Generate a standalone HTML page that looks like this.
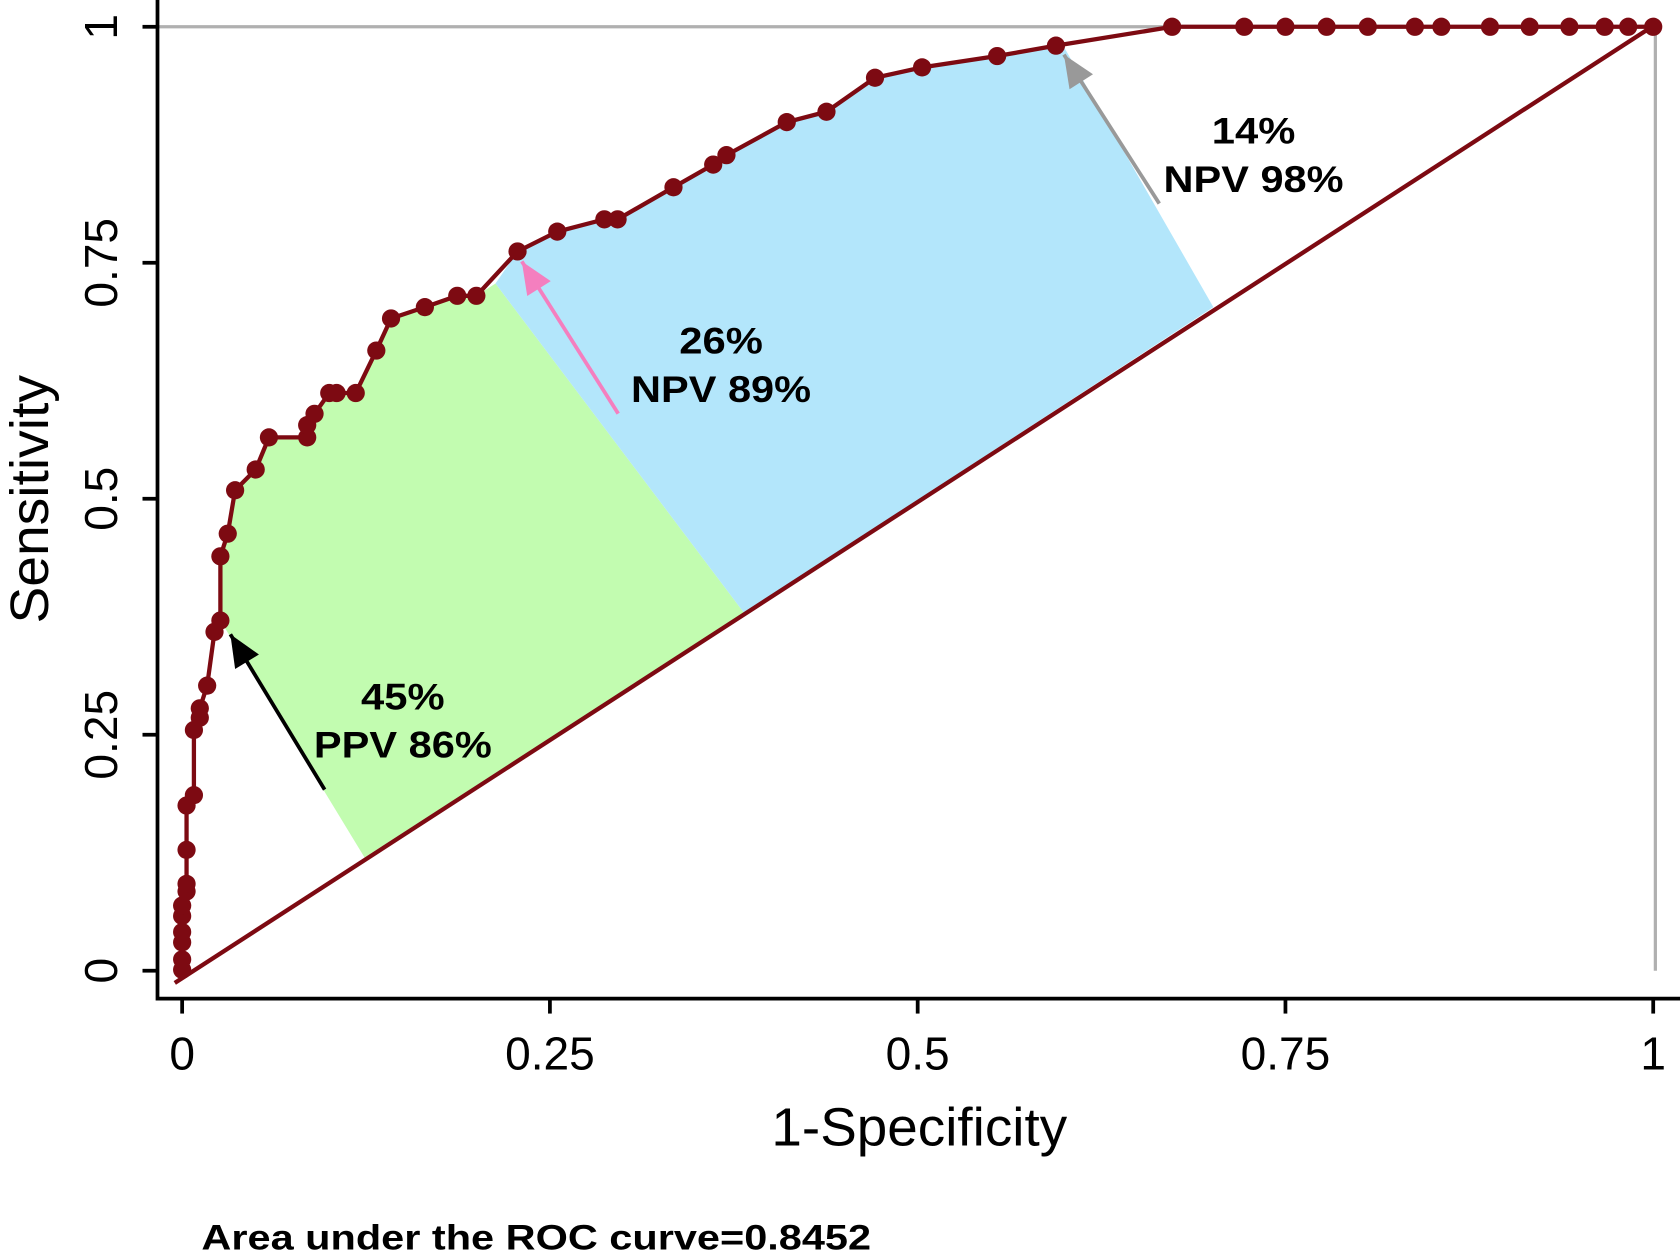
<!DOCTYPE html>
<html><head><meta charset="utf-8"><style>
html,body{margin:0;padding:0;background:#fff;}
svg{display:block;font-family:"Liberation Sans",Arial,sans-serif;}
</style></head><body>
<svg id="chart" width="1680" height="1260" viewBox="0 0 1568 1176" xmlns="http://www.w3.org/2000/svg">
<g id="regions"></g>
<g id="lines"></g>
<g id="dots"></g>
<g id="annot"></g>
<g id="axes"></g>
</svg>
<script>
const fpr = [0,0,0,0,0,0,0.003,0.003,0.003,0.003,0.008,0.008,0.012,0.012,0.017,0.022,0.026,0.026,0.031,0.036,0.050,0.059,0.085,0.085,0.090,0.100,0.105,0.118,0.132,0.142,0.165,0.187,0.200,0.228,0.255,0.287,0.296,0.334,0.361,0.370,0.411,0.438,0.471,0.503,0.554,0.594,0.673,0.722,0.750,0.778,0.806,0.838,0.856,0.889,0.916,0.943,0.967,0.983,1];
const tpr = [0.001,0.012,0.030,0.041,0.058,0.069,0.084,0.092,0.128,0.175,0.186,0.255,0.268,0.278,0.302,0.359,0.371,0.439,0.463,0.509,0.531,0.565,0.565,0.578,0.590,0.612,0.612,0.612,0.657,0.691,0.703,0.715,0.715,0.762,0.783,0.796,0.796,0.830,0.854,0.864,0.899,0.910,0.946,0.957,0.969,0.980,1,1,1,1,1,1,1,1,1,1,1,1,1];
const xTicks = [0,0.25,0.5,0.75,1];
const xTickLabels = ["0","0.25","0.5","0.75","1"];
const yTicks = [0,0.25,0.5,0.75,1];
const yTickLabels = ["0","0.25","0.5","0.75","1"];
const aucText = "Area under the ROC curve=0.8452";

const X = v => 170 + v*1373;
const Y = v => 906 - v*881;
const NS = "http://www.w3.org/2000/svg";
function mk(tag, attrs, parent){const e=document.createElementNS(NS,tag);for(const k in attrs)e.setAttribute(k,attrs[k]);document.getElementById(parent).appendChild(e);return e;}
const RED = "#7d0a12";

function curveBetween(a,b){const p=[];for(let i=0;i<fpr.length;i++){if(fpr[i]>=a&&fpr[i]<=b)p.push(X(fpr[i])+","+Y(tpr[i]));}return p;}
let gp = [X(0.026)+","+Y(0.371)].concat(curveBetween(0.026,0.2)).concat([X(0.213)+","+Y(0.728), X(0.382)+","+Y(0.379), X(0.124)+","+Y(0.12)]);
let g = mk("polygon",{points:gp.join(" "),fill:"#c2fcb0"},"regions");


let bp = [X(0.213)+","+Y(0.728)].concat(curveBetween(0.22,0.594)).concat([X(0.6)+","+Y(0.977), X(0.701)+","+Y(0.703), X(0.382)+","+Y(0.379)]);
let b = mk("polygon",{points:bp.join(" "),fill:"#b3e6fb"},"regions");



let gl = mk("polyline",{points:`147,${Y(1)} ${X(1)+2},${Y(1)} ${X(1)+2},906`,fill:"none",stroke:"#b0b0b0","stroke-width":3},"lines");



let d = mk("line",{x1:X(-0.005),y1:Y(-0.013),x2:X(1.002),y2:Y(1.003),stroke:RED,"stroke-width":4},"lines");



let cpts = fpr.map((v,i)=>X(v)+","+Y(tpr[i])).join(" ");
let c = mk("polyline",{points:cpts,fill:"none",stroke:RED,"stroke-width":4},"lines");


for(let i=0;i<fpr.length;i++){
  const dot = mk("circle",{cx:X(fpr[i]),cy:Y(tpr[i]),r:8.5,fill:RED},"dots");
  
  
}

function arrow(x1,y1,x2,y2,col,name){
  const l = mk("line",{x1,y1,x2,y2,stroke:col,"stroke-width":3.5},"annot");
  
  
  const ang=Math.atan2(y2-y1,x2-x1), L=30, W=13;
  const bx=x2-L*Math.cos(ang), by=y2-L*Math.sin(ang);
  const px=-Math.sin(ang)*W, py=Math.cos(ang)*W;
  const h = mk("polygon",{points:`${x2},${y2} ${bx+px},${by+py} ${bx-px},${by-py}`,fill:col},"annot");
  
  
}
arrow(303,737,215,592,"#000","ppv-arrow");
arrow(577,386,487,244,"#f47fbf","npv89-arrow");
arrow(1082,190,993,51,"#999999","npv98-arrow");

function txt(x,y,s,attrs,name,parent,len){const t=mk("text",Object.assign({x,y},attrs),parent||"annot");t.textContent=s;if(len){t.setAttribute('textLength',len);t.setAttribute('lengthAdjust','spacingAndGlyphs');}return t;}
const lb={"font-size":35,"font-weight":"bold","text-anchor":"middle",fill:"#000"};
txt(376,662,"45%",lb,"ppv-pct-label","annot",78);
txt(376,707,"PPV 86%",lb,"ppv-value-label","annot",166);
txt(673,330,"26%",lb,"npv89-pct-label","annot",78);
txt(673,375,"NPV 89%",lb,"npv89-value-label","annot",168);
txt(1170,134,"14%",lb,"npv98-pct-label","annot",78);
txt(1170,179,"NPV 98%",lb,"npv98-value-label","annot",168);

let ax = mk("polyline",{points:"147,0 147,932 1568,932",fill:"none",stroke:"#000","stroke-width":3.5},"axes");


xTicks.forEach((v,i)=>{
  const t=mk("line",{x1:X(v),y1:932,x2:X(v),y2:946,stroke:"#000","stroke-width":3.5},"axes");
  
  
  txt(X(v),998,xTickLabels[i],{"font-size":43,"text-anchor":"middle",fill:"#000"},"x-tick-label","axes");
});
yTicks.forEach((v,i)=>{
  const t=mk("line",{x1:133,y1:Y(v),x2:147,y2:Y(v),stroke:"#000","stroke-width":3.5},"axes");
  
  
  txt(109,Y(v),yTickLabels[i],{"font-size":43,"text-anchor":"middle",fill:"#000",transform:`rotate(-90 109 ${Y(v)})`},"y-tick-label","axes");
});
txt(858,1069,"1-Specificity",{"font-size":50,"text-anchor":"middle",fill:"#000"},"x-axis-title","axes",276);
txt(45,466,"Sensitivity",{"font-size":50,"text-anchor":"middle",fill:"#000",transform:"rotate(-90 45 466)"},"y-axis-title","axes",232);
txt(188,1166,aucText,{"font-size":33,"font-weight":"bold",fill:"#000"},"auc-caption","axes",625);
</script>
</body></html>
